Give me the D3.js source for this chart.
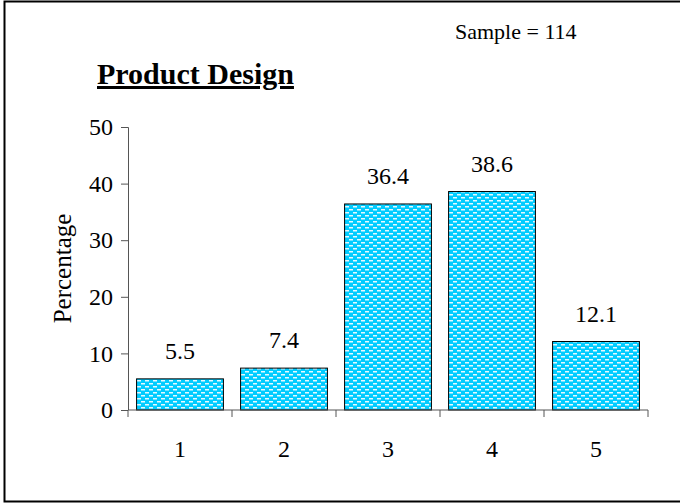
<!DOCTYPE html>
<html>
<head>
<meta charset="utf-8">
<script src="https://cdn.jsdelivr.net/npm/d3@7"></script>
<style>
  body { margin: 0; background: #fff; }
  svg text { font-family: "Liberation Serif", "Times New Roman", serif; }
</style>
</head>
<body>
<script>
const categories = ["1", "2", "3", "4", "5"];
const values = [5.5, 7.4, 36.4, 38.6, 12.1];
const yTicks = [0, 10, 20, 30, 40, 50];

const svgWidth = 680, svgHeight = 503;
const margin = { top: 127, right: 32, bottom: 93, left: 128 };
const width = svgWidth - margin.left - margin.right;
const height = svgHeight - margin.top - margin.bottom;

const svg = d3.select("body").append("svg")
    .attr("width", svgWidth)
    .attr("height", svgHeight);

// brick-like dotted fill
const defs = svg.append("defs");
const pat = defs.append("pattern")
    .attr("id", "dots")
    .attr("patternUnits", "userSpaceOnUse")
    .attr("width", 8)
    .attr("height", 6);
pat.append("rect").attr("width", 8).attr("height", 6).attr("fill", "#00ccff");
pat.append("rect").attr("x", 1).attr("y", 1).attr("width", 4).attr("height", 1.5).attr("fill", "#e6f9ff");
pat.append("rect").attr("x", 5).attr("y", 4).attr("width", 4).attr("height", 1.5).attr("fill", "#e6f9ff");
pat.append("rect").attr("x", -3).attr("y", 4).attr("width", 4).attr("height", 1.5).attr("fill", "#e6f9ff");

// frame (top, left, bottom)
svg.append("path")
    .attr("d", `M${svgWidth},1.5 H4.5 V501.5 H${svgWidth}`)
    .attr("fill", "none")
    .attr("stroke", "#000")
    .attr("stroke-width", 2);

const g = svg.append("g")
    .attr("transform", `translate(${margin.left},${margin.top})`);

const x = d3.scaleBand()
    .domain(categories)
    .range([0, width])
    .paddingInner(0.165)
    .paddingOuter(0.0825);

const y = d3.scaleLinear()
    .domain([0, 50])
    .range([height, 0]);

// bars
g.selectAll("rect.bar")
    .data(values)
    .join("rect")
    .attr("class", "bar")
    .attr("x", (d, i) => x(categories[i]))
    .attr("y", d => y(d))
    .attr("width", x.bandwidth())
    .attr("height", d => height - y(d))
    .attr("fill", "url(#dots)")
    .attr("stroke", "#000")
    .attr("stroke-width", 1);

// value labels
g.selectAll("text.val")
    .data(values)
    .join("text")
    .attr("class", "val")
    .attr("x", (d, i) => x(categories[i]) + x.bandwidth() / 2)
    .attr("y", d => y(d) - 20)
    .attr("text-anchor", "middle")
    .attr("font-size", 24)
    .text(d => d.toFixed(1));

// y axis
const gy = g.append("g")
    .call(d3.axisLeft(y).tickValues(yTicks).tickSize(7).tickPadding(8));
gy.attr("font-family", null);
gy.select(".domain").attr("stroke", "#555").attr("d", `M-7,0.5H0.5V${height}`);
gy.selectAll(".tick line").attr("stroke", "#555");
gy.selectAll(".tick text")
    .attr("font-size", 24)
    .attr("fill", "#000");

// x axis: ticks at category boundaries
const gx = g.append("g")
    .attr("transform", `translate(0,${height})`);
gx.append("line")
    .attr("x1", 0).attr("x2", width)
    .attr("stroke", "#555");
const step = x.step();
gx.selectAll("line.tk")
    .data(d3.range(categories.length + 1))
    .join("line")
    .attr("class", "tk")
    .attr("x1", i => i * step).attr("x2", i => i * step)
    .attr("y1", 0).attr("y2", 7)
    .attr("stroke", "#555");
gx.selectAll("text")
    .data(categories)
    .join("text")
    .attr("x", d => x(d) + x.bandwidth() / 2)
    .attr("y", 47)
    .attr("text-anchor", "middle")
    .attr("font-size", 24)
    .text(d => d);

// axis title
svg.append("text")
    .attr("transform", `translate(71,${margin.top + height / 2}) rotate(-90)`)
    .attr("text-anchor", "middle")
    .attr("font-size", 25)
    .text("Percentage");

// chart title
svg.append("text")
    .attr("x", 97)
    .attr("y", 84)
    .attr("font-size", 30)
    .attr("font-weight", "bold")
    .attr("text-decoration", "underline")
    .text("Product Design");

svg.append("text")
    .attr("x", 455)
    .attr("y", 39)
    .attr("font-size", 22)
    .text("Sample = 114");
</script>
</body>
</html>
